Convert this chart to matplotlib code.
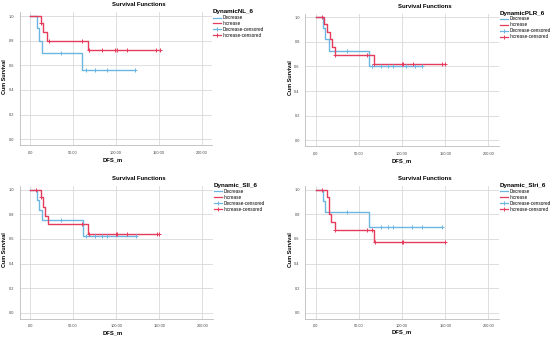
import matplotlib
matplotlib.use("Agg")
import matplotlib.pyplot as plt
from matplotlib.lines import Line2D

plt.rcParams["font.family"] = ["Liberation Sans", "DejaVu Sans"]

# ---- data (Kaplan-Meier steps, months) ----
panels = ["DynamicNL_6", "DynamicPLR_6", "Dynamic_SII_6", "Dynamic_SIri_6"]

# step curves: times where survival changes, and survival after each step
dec_t = [[0, 7.8, 10.5, 14.4, 61.0], [0, 8.0, 10.8, 15.4, 62.0],
         [0, 7.8, 10.5, 14.4, 61.0], [0, 8.0, 10.8, 62.0]]
dec_s = [[1.0, 0.90, 0.80, 0.70, 0.56], [1.0, 0.91, 0.82, 0.73, 0.607],
         [1.0, 0.917, 0.833, 0.75, 0.625], [1.0, 0.91, 0.82, 0.70]]
dec_end = [122.5, 123.0, 122.5, 146.0]
dec_cens = [[36, 65, 76, 89.5, 122.5], [36, 65, 75.7, 84, 90, 105, 115, 123],
            [36, 65, 76, 83.6, 89.5, 122.5], [36, 75.7, 84, 90, 112, 123, 146]]

inc_t = [[0, 12.4, 15.6, 19.5, 67.0], [0, 9.7, 12.7, 16.6, 18.5, 22.4, 68.0],
         [0, 12.4, 15.0, 17.0, 21.0, 67.0], [0, 13.5, 15.8, 17.4, 22.4, 67.6]]
inc_s = [[1.0, 0.94, 0.87, 0.80, 0.724], [1.0, 0.943, 0.88, 0.82, 0.76, 0.694, 0.618],
         [1.0, 0.94, 0.86, 0.79, 0.72, 0.64], [1.0, 0.94, 0.80, 0.735, 0.67, 0.573]]
inc_end = [151.0, 150.0, 150.0, 150.0]
inc_cens = [[12.4, 22, 60, 68.5, 83.6, 99, 101, 113, 147, 151],
            [7, 22.4, 60, 68, 99.6, 101.5, 113, 146, 150],
            [7, 12.4, 60, 68, 99.6, 101, 113, 147, 150],
            [7, 22.4, 60, 65, 68.5, 99.6, 101.5, 150]]

xticks = [0, 50, 100, 150, 200]
xticklabels = [".00", "50.00", "100.00", "150.00", "200.00"]
yticks = [0.0, 0.2, 0.4, 0.6, 0.8, 1.0]

BLUE = "#6cb6e2"
RED = "#e63c5c"
GRID = "#d9d9d9"

W, H = 550, 338
fig = plt.figure(figsize=(5.5, 3.38), dpi=100)

# pixel positions of x=0, x=200, y=1.0, y=0.0 for each panel
anchors = [(30, 201.7, 16, 139.3), (315.7, 488.3, 17.3, 140.3),
           (30, 202.3, 189.7, 312.7), (315.7, 488.3, 189.7, 312.7)]
# title, x label, y label pixel positions
title_pos = [(139, 5), (425, 6), (139, 178), (425, 178)]
xlab_pos = [(113, 160), (402, 161), (113, 333), (402, 332)]
ylab_pos = [(5, 77), (291, 78), (5, 250), (291, 250)]
XL, XR, YB, YT = -12, 212, -0.05, 1.03


def surv_at(ts, ss, x):
    v = ss[0]
    for t, s in zip(ts, ss):
        if x >= t:
            v = s
    return v


for i, name in enumerate(panels):
    x0, x200, y1, y0 = anchors[i]
    sx = (x200 - x0) / 200.0
    sy = (y0 - y1)
    left = x0 + XL * sx
    right = x0 + XR * sx
    top = y0 - YT * sy
    bottom = y0 - YB * sy
    ax = fig.add_axes([left / W, 1 - bottom / H, (right - left) / W, (bottom - top) / H])

    for ts, ss, end, cens, col in [(dec_t[i], dec_s[i], dec_end[i], dec_cens[i], BLUE),
                                   (inc_t[i], inc_s[i], inc_end[i], inc_cens[i], RED)]:
        ax.step(ts + [end], ss + [ss[-1]], where="post", color=col, lw=1.0, zorder=3)
        cy = [surv_at(ts, ss, c) for c in cens]
        ax.plot(cens, cy, ls="none", marker="+", ms=2.6, mew=0.7, color=col, zorder=4)

    ax.set_xlim(XL, XR)
    ax.set_ylim(YB, YT)
    ax.set_xticks(xticks)
    ax.set_xticklabels(xticklabels)
    ax.set_yticks(yticks)
    ax.set_yticklabels(["%.1f" % v for v in yticks])
    ax.tick_params(labelsize=2.8, length=0, pad=4, colors="#444444")
    ax.grid(True, color=GRID, lw=0.6)
    ax.set_axisbelow(True)
    for sp in ["top", "right"]:
        ax.spines[sp].set_visible(False)
    for sp in ["left", "bottom"]:
        ax.spines[sp].set_color("#bbbbbb")
        ax.spines[sp].set_linewidth(0.6)

    tx, ty = title_pos[i]
    fig.text(tx / W, 1 - ty / H, "Survival Functions", ha="center", va="center",
             fontsize=4.3, fontweight="bold")
    lx, ly = xlab_pos[i]
    fig.text(lx / W, 1 - ly / H, "DFS_m", ha="center", va="center",
             fontsize=4.2, fontweight="bold")
    yx, yy = ylab_pos[i]
    fig.text(yx / W, 1 - yy / H, "Cum Survival", ha="center", va="center",
             rotation=90, fontsize=3.9, fontweight="bold")

    handles = [Line2D([], [], color=BLUE, lw=0.9),
               Line2D([], [], color=RED, lw=0.9),
               Line2D([], [], color=BLUE, lw=0.9, marker="+", ms=2.6, mew=0.7),
               Line2D([], [], color=RED, lw=0.9, marker="+", ms=2.6, mew=0.7)]
    leg = ax.legend(handles, ["Decrease", "Increase", "Decrease-censored", "Increase-censored"],
                    title=name, loc="upper left", bbox_to_anchor=(1.0, 1.03),
                    frameon=False, fontsize=3.3, title_fontsize=4.5,
                    handlelength=1.8, handletextpad=0.3, labelspacing=0.2,
                    borderaxespad=0.0, borderpad=0.2)
    leg.get_title().set_fontweight("bold")
    leg._legend_box.align = "left"

fig.savefig("out.png", dpi=100, facecolor="white")
